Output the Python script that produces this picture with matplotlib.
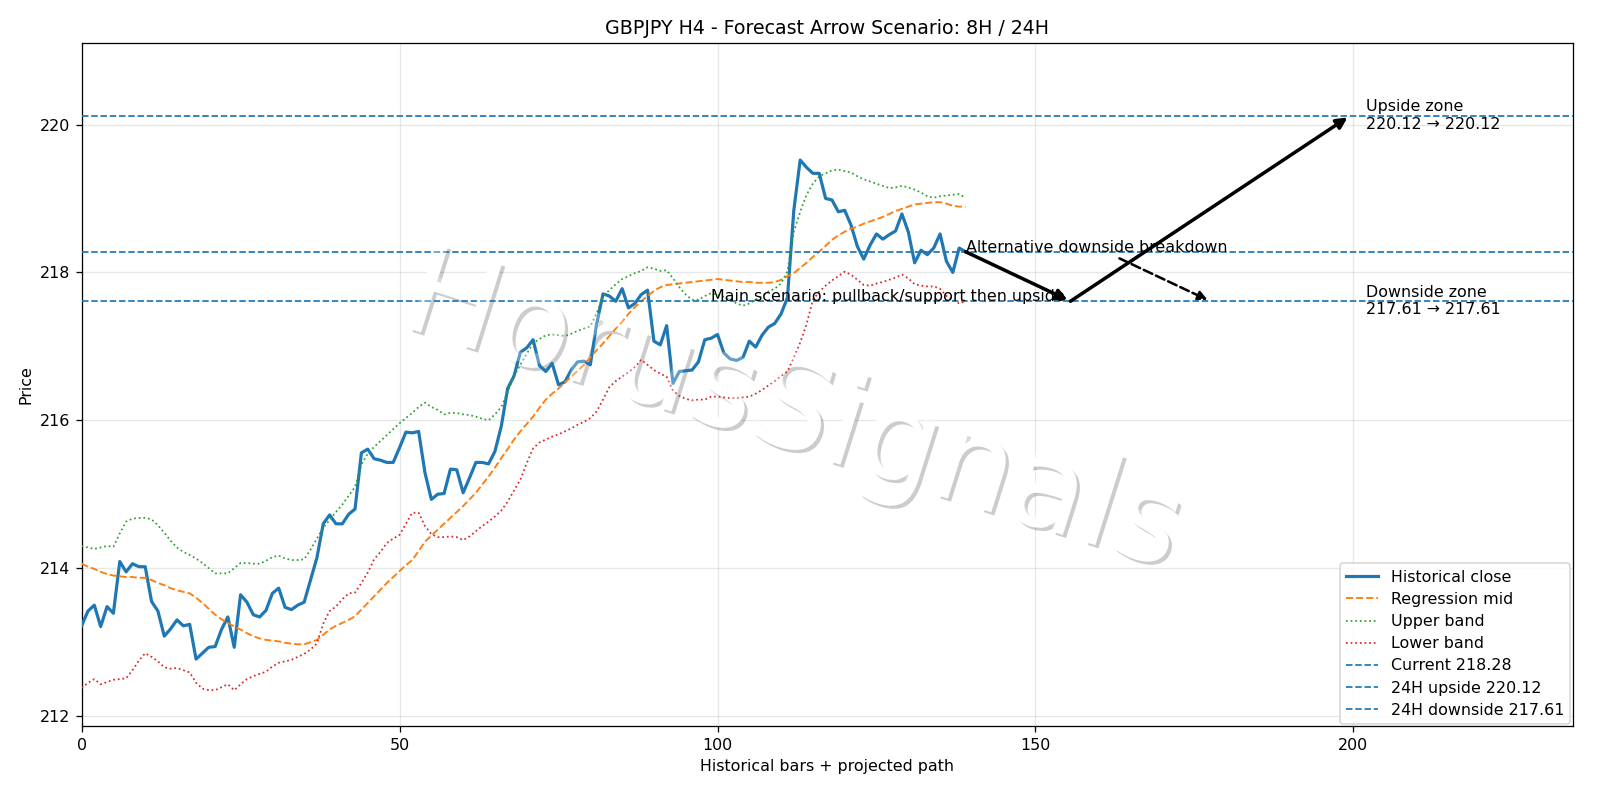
import matplotlib
matplotlib.use("Agg")
import matplotlib.pyplot as plt
import matplotlib.patheffects as pe
import numpy as np

close = [213.22, 213.42, 213.50, 213.21, 213.48, 213.39, 214.09, 213.95, 214.06, 214.02,
         214.02, 213.55, 213.42, 213.08, 213.18, 213.30, 213.22, 213.24, 212.77, 212.85,
         212.93, 212.94, 213.17, 213.34, 212.93, 213.64, 213.54, 213.37, 213.34, 213.43,
         213.66, 213.73, 213.47, 213.44, 213.50, 213.54, 213.84, 214.14, 214.60, 214.72,
         214.60, 214.60, 214.73, 214.80, 215.56, 215.61, 215.48, 215.46, 215.43, 215.43,
         215.63, 215.84, 215.83, 215.85, 215.29, 214.93, 215.00, 215.01, 215.34, 215.33,
         215.02, 215.22, 215.43, 215.43, 215.41, 215.58, 215.92, 216.43, 216.60, 216.92,
         216.98, 217.09, 216.74, 216.66, 216.77, 216.48, 216.52, 216.68, 216.79, 216.80,
         216.75, 217.31, 217.71, 217.68, 217.61, 217.78, 217.52, 217.58, 217.70, 217.76,
         217.07, 217.02, 217.28, 216.50, 216.66, 216.67, 216.68, 216.79, 217.09, 217.11,
         217.16, 216.91, 216.83, 216.81, 216.85, 217.07, 216.99, 217.15, 217.26, 217.31,
         217.44, 217.66, 218.84, 219.52, 219.42, 219.34, 219.34, 219.00, 218.98, 218.82,
         218.84, 218.64, 218.35, 218.18, 218.37, 218.52, 218.45, 218.51, 218.56, 218.79,
         218.55, 218.13, 218.30, 218.24, 218.33, 218.52, 218.15, 218.00, 218.33, 218.28]

mid = [214.06, 214.02, 213.99, 213.95, 213.92, 213.90, 213.89, 213.88, 213.88, 213.87,
       213.87, 213.84, 213.80, 213.77, 213.73, 213.70, 213.68, 213.66, 213.60, 213.53,
       213.45, 213.37, 213.31, 213.26, 213.21, 213.17, 213.12, 213.08, 213.05, 213.03,
       213.02, 213.01, 212.99, 212.98, 212.97, 212.97, 213.00, 213.03, 213.10, 213.17,
       213.22, 213.26, 213.30, 213.35, 213.44, 213.53, 213.62, 213.71, 213.80, 213.88,
       213.96, 214.04, 214.11, 214.23, 214.36, 214.44, 214.52, 214.60, 214.68, 214.76,
       214.84, 214.93, 215.02, 215.13, 215.24, 215.36, 215.49, 215.61, 215.74, 215.85,
       215.95, 216.05, 216.17, 216.28, 216.36, 216.43, 216.51, 216.59, 216.67, 216.75,
       216.85, 216.95, 217.04, 217.14, 217.24, 217.33, 217.44, 217.53, 217.61, 217.68,
       217.75, 217.80, 217.83, 217.84, 217.85, 217.86, 217.87, 217.88, 217.89, 217.90,
       217.91, 217.90, 217.89, 217.88, 217.87, 217.87, 217.86, 217.86, 217.86, 217.87,
       217.90, 217.95, 217.99, 218.06, 218.13, 218.21, 218.28, 218.36, 218.44, 218.50,
       218.55, 218.59, 218.62, 218.66, 218.69, 218.72, 218.75, 218.79, 218.83, 218.86,
       218.89, 218.92, 218.93, 218.94, 218.95, 218.95, 218.93, 218.90, 218.89, 218.89]

upper = [214.30, 214.28, 214.26, 214.28, 214.30, 214.29, 214.47, 214.63, 214.67, 214.68,
         214.68, 214.66, 214.58, 214.48, 214.37, 214.28, 214.22, 214.18, 214.13, 214.07,
         214.00, 213.93, 213.93, 213.93, 214.00, 214.07, 214.07, 214.06, 214.06, 214.10,
         214.15, 214.17, 214.13, 214.11, 214.11, 214.12, 214.25, 214.40, 214.55, 214.65,
         214.76, 214.86, 214.98, 215.10, 215.40, 215.55, 215.64, 215.72, 215.80, 215.88,
         215.96, 216.03, 216.10, 216.18, 216.24, 216.18, 216.14, 216.08, 216.10, 216.10,
         216.08, 216.07, 216.05, 216.02, 216.00, 216.08, 216.18, 216.38, 216.60, 216.75,
         216.90, 217.04, 217.10, 217.15, 217.16, 217.15, 217.14, 217.17, 217.21, 217.24,
         217.27, 217.45, 217.68, 217.76, 217.84, 217.91, 217.95, 217.99, 218.02, 218.07,
         218.05, 218.02, 218.03, 217.92, 217.80, 217.70, 217.63, 217.63, 217.68, 217.72,
         217.70, 217.67, 217.63, 217.58, 217.55, 217.58, 217.63, 217.68, 217.74, 217.78,
         217.85, 218.02, 218.55, 218.82, 219.05, 219.20, 219.30, 219.34, 219.38, 219.39,
         219.37, 219.35, 219.30, 219.26, 219.23, 219.20, 219.17, 219.14, 219.15, 219.17,
         219.15, 219.12, 219.08, 219.03, 219.01, 219.03, 219.04, 219.05, 219.06, 219.01]

lower = [212.38, 212.45, 212.50, 212.43, 212.46, 212.49, 212.50, 212.51, 212.62, 212.75,
         212.85, 212.80, 212.74, 212.66, 212.64, 212.65, 212.62, 212.59, 212.45, 212.37,
         212.35, 212.35, 212.39, 212.43, 212.35, 212.43, 212.50, 212.54, 212.57, 212.60,
         212.67, 212.72, 212.74, 212.76, 212.80, 212.84, 212.90, 212.98, 213.25, 213.42,
         213.48, 213.58, 213.66, 213.67, 213.80, 213.94, 214.12, 214.22, 214.34, 214.40,
         214.45, 214.60, 214.75, 214.75, 214.57, 214.46, 214.42, 214.42, 214.43, 214.42,
         214.38, 214.43, 214.50, 214.57, 214.63, 214.70, 214.78, 214.90, 215.05, 215.20,
         215.42, 215.62, 215.70, 215.74, 215.78, 215.81, 215.85, 215.89, 215.94, 215.98,
         216.03, 216.12, 216.28, 216.45, 216.53, 216.59, 216.65, 216.72, 216.82, 216.75,
         216.68, 216.63, 216.59, 216.40, 216.33, 216.29, 216.27, 216.28, 216.28, 216.32,
         216.32, 216.31, 216.30, 216.30, 216.31, 216.32, 216.36, 216.41, 216.47, 216.53,
         216.60, 216.66, 216.85, 217.05, 217.30, 217.63, 217.74, 217.82, 217.89, 217.95,
         218.01, 217.97, 217.90, 217.83, 217.82, 217.85, 217.87, 217.90, 217.93, 217.97,
         217.92, 217.84, 217.82, 217.81, 217.81, 217.78, 217.68, 217.63, 217.58, 217.61]

current = 218.28
upside = 220.12
downside = 217.61

# projected path (x positions in bar units)
main_path_x = [139, 155.5, 199.5]
main_path_y = [current, downside, upside]
alt_path_x = [163.2, 177.5]
alt_path_y = [218.19, downside]

x = np.arange(len(close))

fig, ax = plt.subplots(figsize=(14, 7), dpi=1600 / 14)
fig.subplots_adjust(left=0.051, right=0.983, top=0.946, bottom=0.092)

ax.plot(x, close, color="C0", lw=2, label="Historical close", zorder=3)
ax.plot(x, mid, color="C1", lw=1.2, ls="--", label="Regression mid", zorder=3)
ax.plot(x, upper, color="C2", lw=1.1, ls=":", label="Upper band", zorder=3)
ax.plot(x, lower, color="C3", lw=1.1, ls=":", label="Lower band", zorder=3)
ax.axhline(current, color="C0", lw=1.1, ls="--", label=f"Current {current:.2f}", zorder=3)
ax.axhline(upside, color="C0", lw=1.1, ls="--", label=f"24H upside {upside:.2f}", zorder=3)
ax.axhline(downside, color="C0", lw=1.1, ls="--", label=f"24H downside {downside:.2f}", zorder=3)

arrow_kw = dict(arrowstyle="-|>", color="black", lw=2.2, mutation_scale=14,
                shrinkA=0, shrinkB=2)
for i in range(len(main_path_x) - 1):
    ax.annotate("", xy=(main_path_x[i + 1], main_path_y[i + 1]),
                xytext=(main_path_x[i], main_path_y[i]), arrowprops=arrow_kw)
ax.annotate("", xy=(alt_path_x[1], alt_path_y[1]), xytext=(alt_path_x[0], alt_path_y[0]),
            arrowprops=dict(arrowstyle="-|>", color="black", lw=1.6, ls="--",
                            mutation_scale=12, shrinkA=0, shrinkB=2))

ax.text(99.0, downside, "Main scenario: pullback/support then upside", fontsize=10, zorder=6)
ax.text(139.0, current, "Alternative downside breakdown", fontsize=10, zorder=6)
ax.text(202.0, upside, f"Upside zone\n{upside:.2f} \u2192 {upside:.2f}", fontsize=10, va="center")
ax.text(202.0, downside, f"Downside zone\n{downside:.2f} \u2192 {downside:.2f}", fontsize=10, va="center")

# watermark: gray shadow + white letters under the lines, light white veil over the lines
wm = "HorusSignals"
wm_kw = dict(fontsize=78, rotation=-17.5, ha="center", va="center",
             transform=fig.transFigure)
ax.text(0.4956, 0.483, wm, color="white", zorder=1.5,
        path_effects=[pe.SimplePatchShadow(offset=(2, -2), shadow_rgbFace="black",
                                           alpha=0.2), pe.Normal()], **wm_kw)
ax.text(0.4956, 0.483, wm, color="white", alpha=0.3, zorder=5, **wm_kw)

ax.set_xlim(0, 234.5)
ax.set_ylim(211.86, 221.10)
ax.set_xticks([0, 50, 100, 150, 200])
ax.grid(True, alpha=0.3, zorder=0)
ax.set_axisbelow(True)
ax.set_title("GBPJPY H4 - Forecast Arrow Scenario: 8H / 24H")
ax.set_xlabel("Historical bars + projected path")
ax.set_ylabel("Price")
leg = ax.legend(loc="lower right", borderaxespad=0.15, labelspacing=0.45)
leg.set_zorder(10)

fig.savefig("out.png", dpi=1600 / 14)
